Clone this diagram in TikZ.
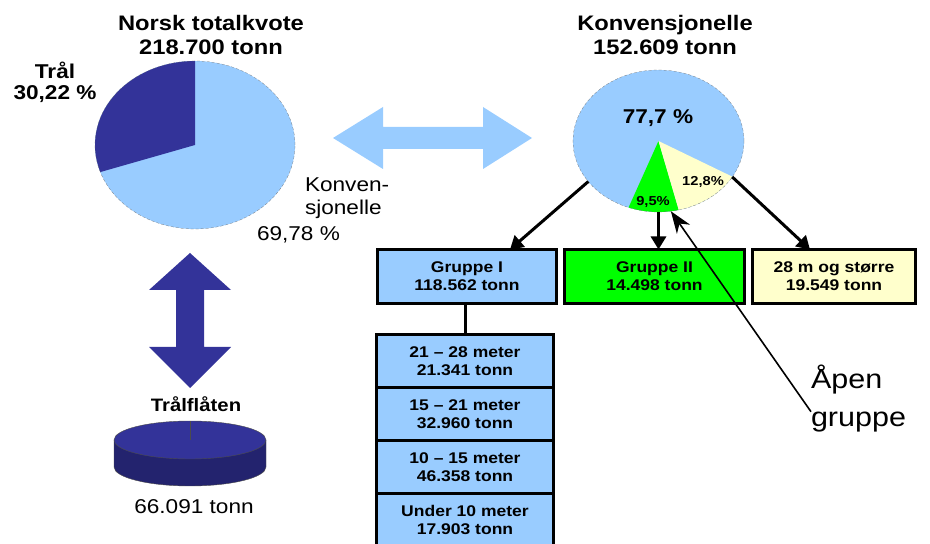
\documentclass[tikz,border=0pt]{standalone}
\usepackage{fontspec}
\setmainfont[FakeStretch=1.13]{Liberation Sans}
\usetikzlibrary{positioning,shapes.geometric,arrows.meta}

\definecolor{lysblaa}{HTML}{99CCFF}
\definecolor{morkblaa}{HTML}{333399}
\definecolor{morkside}{HTML}{23236E}
\definecolor{gronn}{HTML}{00FF00}
\definecolor{krem}{HTML}{FFFFCC}

\begin{document}
\begin{tikzpicture}
  [x=1pt,y=1pt,every node/.style={inner sep=0pt,outer sep=0pt,align=center},
   tittel/.style={font=\fontsize{21}{24}\selectfont\bfseries},
   etikett/.style={font=\fontsize{20}{23}\selectfont},
   boks/.style={draw,line width=3pt,minimum width=179pt,minimum height=54pt,
     font=\fontsize{15.5}{18}\selectfont\bfseries},
   rad/.style={boks,fill=lysblaa,minimum width=177pt,minimum height=53pt},
   pil/.style={line width=3pt,-{Triangle[length=13pt,width=15pt]}},
   peker/.style={line width=1.6pt,-{Stealth[length=22pt,width=16pt,inset=7pt]}},
   omriss/.style={draw=black!60,densely dashed,very thin}]
  \useasboundingbox (0,0) rectangle (930,544);

  \node[tittel] (norsk) at (211,509) {Norsk totalkvote\\218.700 tonn};
  \node[tittel] (konv) at (665,509) {Konvensjonelle\\152.609 tonn};

  \fill[lysblaa] (195,399) ellipse [x radius=100,y radius=84];
  \fill[morkblaa] (195,399) -- (195,483) arc [start angle=90,end angle=198.8,x radius=100,y radius=84] -- cycle;
  \draw[omriss] (195,399) ellipse [x radius=100,y radius=84];

  \node[etikett,font=\fontsize{20}{21}\selectfont\bfseries] (tral) at (55,462) {Trål\\30,22 \%};
  \node[etikett,anchor=west,align=left] (konvlbl) at (305,346) {Konven-\\sjonelle};
  \node[etikett,anchor=west] (konvpst) at (257,309) {69,78 \%};

  \fill[lysblaa] (333,406) -- (383,437) -- (383,417) -- (483,417) -- (483,437) -- (532,406)
    -- (483,375) -- (483,395) -- (383,395) -- (383,375) -- cycle;
  \fill[morkblaa] (190,291) -- (231,254) -- (204,254) -- (204,197) -- (231,197) -- (190,156)
    -- (149,197) -- (176,197) -- (176,254) -- (149,254) -- cycle;

  \node[font=\fontsize{18}{20}\selectfont\bfseries] (flaate) at (196,140) {Trålflåten};
  \fill[morkside] (114,104) -- (114,77) arc [start angle=180,end angle=360,x radius=76,y radius=19] -- (266,104) -- cycle;
  \draw[black!70,thin] (114,104) -- (114,77) arc [start angle=180,end angle=360,x radius=76,y radius=19] -- (266,104);
  \fill[morkblaa] (190,104) ellipse [x radius=76,y radius=19];
  \draw[black!70,thin] (190,104) ellipse [x radius=76,y radius=19];
  \draw[black!70,thin] (190,104) -- (190,123);
  \node[etikett] (tonn) at (194,37) {66.091 tonn};

  \node[ellipse,fill=lysblaa,minimum width=171pt,minimum height=142pt] (kpie) at (658.5,403) {};
  \fill[gronn] (kpie.center) -- +(249.5:85.5 and 71) arc [start angle=249.5,end angle=283.7,x radius=85.5,y radius=71] -- cycle;
  \fill[krem] (kpie.center) -- +(283.7:85.5 and 71) arc [start angle=283.7,end angle=329.8,x radius=85.5,y radius=71] -- cycle;
  \draw[omriss] (kpie.center) ellipse [x radius=85.5,y radius=71];
  \node[font=\fontsize{20}{24}\selectfont\bfseries] (p777) at (658,426) {77,7 \%};
  \node[font=\fontsize{13}{15}\selectfont\bfseries] (p128) at (703,362) {12,8\%};
  \node[font=\fontsize{13}{15}\selectfont\bfseries] (p95) at (653,342) {9,5\%};

  \node[boks,fill=lysblaa] (gruppe1) at (467,267.5) {Gruppe I\\118.562 tonn};
  \node[boks,fill=gronn,minimum width=180pt] (gruppe2) at (654.5,267.5) {Gruppe II\\14.498 tonn};
  \node[boks,fill=krem,minimum width=163pt] (storre) at (834,267.5) {28 m og større\\19.549 tonn};

  \draw[pil] (kpie.210) -- ([xshift=43pt]gruppe1.north);
  \draw[pil] (kpie.south) -- (kpie.south |- gruppe2.north);
  \draw[pil] (kpie.334) -- ([xshift=-24pt]storre.north);

  \node[rad] (m2128) at (465,183) {21 – 28 meter\\21.341 tonn};
  \node[rad,below=0pt of m2128] (m1521) {15 – 21 meter\\32.960 tonn};
  \node[rad,below=0pt of m1521] (m1015) {10 – 15 meter\\46.358 tonn};
  \node[rad,below=0pt of m1015] (m10) {Under 10 meter\\17.903 tonn};
  \draw[line width=3pt] (m2128.north) -- (m2128.north |- gruppe1.south);

  \node[font=\fontsize{27}{38}\selectfont,align=left,anchor=west] (apen) at (811,145) {Åpen\\gruppe};
  \draw[peker] (apen.195) -- (kpie.280);
\end{tikzpicture}
\end{document}
